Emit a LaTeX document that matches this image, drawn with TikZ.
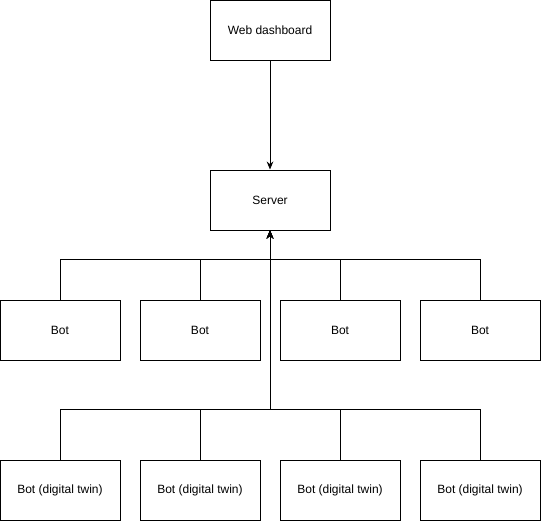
\documentclass[tikz,border=0pt]{standalone}
\usepackage{fontspec}
\setmainfont{Liberation Sans}
\usetikzlibrary{arrows.meta}
\begin{document}
\begin{tikzpicture}[x=0.75pt,y=-0.75pt,
  box/.style={draw=black,line width=0.75pt,rectangle,minimum width=90pt,minimum height=45pt,inner sep=0pt,font=\fontsize{9}{11}\selectfont},
  conn/.style={draw=black,line width=0.75pt,-{Stealth[length=6pt,width=5pt]}}]
\useasboundingbox (0,0) rectangle (541,521);
\fill[white] (0,0) rectangle (541,521);
\node[box] (web) at (270,30) {Web dashboard};
\node[box] (srv) at (270,200) {Server};
\node[box] (b1) at (60,330) {Bot};
\node[box] (b2) at (200,330) {Bot};
\node[box] (b3) at (340,330) {Bot};
\node[box] (b4) at (480,330) {Bot};
\node[box] (t1) at (60,490) {Bot (digital twin)};
\node[box] (t2) at (200,490) {Bot (digital twin)};
\node[box] (t3) at (340,490) {Bot (digital twin)};
\node[box] (t4) at (480,490) {Bot (digital twin)};
\draw[conn] (web) -- (srv);
\foreach \b in {b1,b2,b3,b4}{
  \draw[conn] (\b.north) -- ++(0,-40) -| (srv.south);
}
\foreach \t in {t1,t2,t3,t4}{
  \draw[conn] (\t.north) -- ++(0,-50) -| (srv.south);
}
\end{tikzpicture}
\end{document}
